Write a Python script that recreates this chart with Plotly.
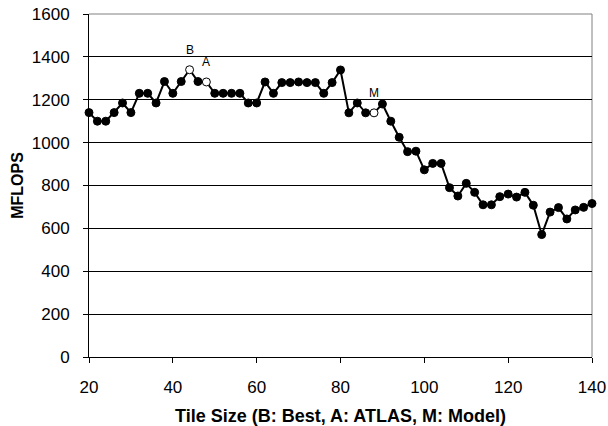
import plotly.graph_objects as go

tile_sizes = list(range(20, 141, 2))
mflops = [1140, 1100, 1100, 1140, 1185, 1140, 1230, 1230, 1185, 1285,
          1230, 1285, 1340, 1285, 1283, 1230, 1230, 1230, 1230, 1185,
          1185, 1283, 1230, 1280, 1280, 1283, 1280, 1280, 1230, 1280,
          1339, 1139, 1185, 1139, 1139, 1180, 1100, 1025, 958, 960,
          873, 903, 903, 790, 751, 810, 768, 710, 710, 748,
          760, 746, 768, 708, 571, 676, 697, 644, 686, 698,
          716]
marked_labels = ["B", "A", "M"]
marked_sizes = [44, 48, 88]

x_ticks = [20, 40, 60, 80, 100, 120, 140]
y_ticks = [0, 200, 400, 600, 800, 1000, 1200, 1400, 1600]

FONT = "Liberation Sans, Arial, sans-serif"

marker_colors = ["white" if t in marked_sizes else "black" for t in tile_sizes]

fig = go.Figure()
fig.add_trace(go.Scatter(
    x=tile_sizes, y=mflops, mode="lines+markers",
    line=dict(color="black", width=2),
    marker=dict(size=8, color=marker_colors, line=dict(color="black", width=1)),
    showlegend=False, cliponaxis=False,
))

for lab, t in zip(marked_labels, marked_sizes):
    v = mflops[tile_sizes.index(t)]
    fig.add_annotation(x=t, y=v, text=lab, showarrow=False, yshift=20,
                       font=dict(family=FONT, size=12, color="black"))

# right border and top gridline (gray)
fig.add_shape(type="line", xref="paper", yref="paper", x0=1, x1=1, y0=0, y1=1,
              line=dict(color="#808080", width=1), layer="below")
fig.add_shape(type="line", xref="paper", yref="paper", x0=0, x1=1, y0=1, y1=1,
              line=dict(color="#808080", width=1), layer="below")

fig.update_layout(
    width=608, height=426,
    margin=dict(l=89, r=16, t=14, b=69, autoexpand=False),
    paper_bgcolor="white", plot_bgcolor="white",
    font=dict(family=FONT, color="black"),
    xaxis=dict(
        range=[20, 140], tickvals=x_ticks, showgrid=False, zeroline=False,
        showline=True, linecolor="black", linewidth=1,
        ticks="outside", ticklen=5, tickcolor="black",
        ticklabelstandoff=10, automargin=False,
        tickfont=dict(size=17),
        title=dict(text="<b>Tile Size (B: Best, A: ATLAS, M: Model)</b>",
                   font=dict(size=18), standoff=14),
    ),
    yaxis=dict(
        range=[0, 1600], tickvals=y_ticks, showgrid=True, gridcolor="#000000",
        gridwidth=1, zeroline=False,
        showline=True, linecolor="black", linewidth=1,
        ticks="outside", ticklen=5, tickcolor="black",
        ticklabelstandoff=10, automargin=False,
        tickfont=dict(size=17),
        title=dict(text="<b>MFLOPS</b>", font=dict(size=16), standoff=4),
    ),
)

fig.write_html("out.html", config={"displayModeBar": False},
               post_script="document.body.style.margin='0';document.body.style.overflow='hidden';")
